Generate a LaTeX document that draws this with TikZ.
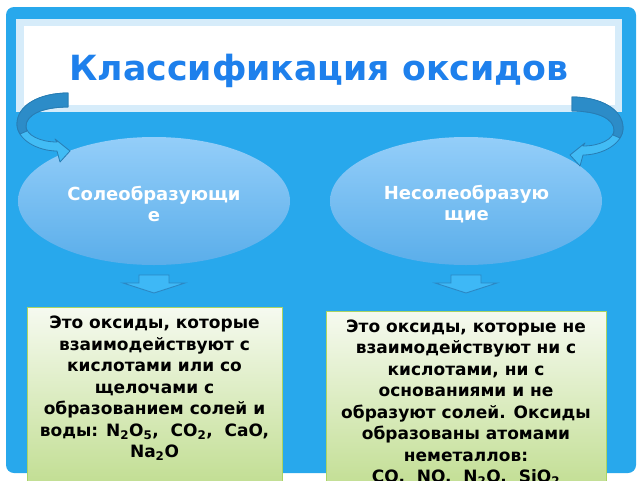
\documentclass[tikz,border=0pt]{standalone}
\usepackage{fontspec}
\setmainfont{DejaVu Sans}
\usetikzlibrary{shapes.geometric}
\definecolor{panelblue}{RGB}{40,168,236}
\definecolor{palebox}{RGB}{214,236,250}
\definecolor{titleblue}{RGB}{30,128,236}
\definecolor{ovaltop}{RGB}{148,206,249}
\definecolor{ovalbot}{RGB}{90,174,234}
\definecolor{boxtop}{RGB}{246,250,240}
\definecolor{boxbot}{RGB}{190,220,140}
\definecolor{boxline}{RGB}{170,212,100}
\definecolor{curllight}{RGB}{66,188,245}
\definecolor{curldark}{RGB}{44,140,200}
\definecolor{curlline}{RGB}{40,125,180}
\definecolor{downfill}{RGB}{62,184,246}
\definecolor{downline}{RGB}{44,136,196}
\tikzset{
  titletext/.style={font=\fontsize{34.7}{40}\selectfont\bfseries, text=titleblue, inner sep=0pt},
  oval/.style={ellipse, minimum width=272pt, minimum height=128pt, inner sep=0pt,
    top color=ovaltop, bottom color=ovalbot},
  ovaltext/.style={font=\fontsize{18}{21}\selectfont\bfseries, text=white, align=center, inner sep=0pt},
  greenbox/.style={rectangle, draw=boxline, line width=0.8pt, top color=boxtop, bottom color=boxbot, inner sep=0pt},
  bodytext/.style={font=\fontsize{17}{21.5}\selectfont\bfseries, text=black, align=center, inner sep=0pt},
  downarrow/.style={fill=downfill, draw=downline, line width=0.9pt, line join=miter},
  curl/.pic={
    \fill[curllight, draw=curlline, line width=0.8pt, line join=round]
      (68,93) .. controls (40,93) and (17,105) .. (17,124)
      .. controls (17,140) and (38,151) .. (57,151)
      -- (60,162) -- (70,151) -- (55,139) -- (57,142)
      .. controls (40,142) and (26,135) .. (26,126)
      .. controls (26,115) and (42,107) .. (68,107) -- cycle;
    \fill[curldark, draw=curlline, line width=0.8pt, line join=round]
      (68,93) .. controls (40,93) and (17,105) .. (17,124)
      .. controls (17,128) and (18,131) .. (20,134)
      -- (27,131) .. controls (26,129) and (26,127) .. (26,126)
      .. controls (26,115) and (42,107) .. (68,107) -- cycle;
  }
}
\begin{document}
\begin{tikzpicture}[x=1pt,y=-1pt]
\useasboundingbox (0,0) rectangle (640,480);
\clip (0,0) rectangle (640,480);
\fill[white] (0,0) rectangle (640,480);
\fill[panelblue, rounded corners=8pt] (6,7) rectangle (636,473);
% title frame
\fill[palebox] (16,19) rectangle (622,112);
\fill[white] (24,26) rectangle (615,105);
\node[titletext, anchor=base] (title) at (319,80) {Классификация оксидов};
% ovals
\node[oval] (e1) at (154,201) {};
\node[oval] (e2) at (466,201) {};
\node[ovaltext, anchor=north] (l1) at (154,186.5) {Солеобразующи\\е};
\node[ovaltext, anchor=north] (l2) at (466.5,185.5) {Несолеобразую\\щие};
% curled arrows from the title to the ovals
\pic at (0,0) {curl};
\pic[xscale=-1] at (640,4) {curl};
% boxes
\node[greenbox, minimum width=255pt, minimum height=190pt, anchor=north] (b1) at (154.5,307) {};
\node[greenbox, minimum width=280pt, minimum height=190pt, anchor=north] (b2) at (466,311) {};
\node[bodytext, anchor=north] (t1) at (154.5,316) {Это оксиды, которые\\взаимодействуют с\\кислотами или со\\щелочами с\\образованием солей и\\воды: N\textsubscript{2}O\textsubscript{5},\ \ CO\textsubscript{2},\ \ CaO,\\Na\textsubscript{2}O};
\node[bodytext, anchor=north] (t2) at (466,319.5) {Это оксиды, которые не\\взаимодействуют ни с\\кислотами, ни с\\основаниями и не\\образуют солей. Оксиды\\образованы атомами\\неметаллов:\\CO,\ \ NO,\ \ N\textsubscript{2}O,\ \ SiO\textsubscript{2}};
% down arrows between ovals and boxes
\coordinate (d1) at (154,293);
\coordinate (d2) at (466,293);
\draw[downarrow] (d1) -- ++(-31,-10) -- ++(16,0) -- ++(0,-8) -- ++(30,0) -- ++(0,8) -- ++(16,0) -- cycle;
\draw[downarrow] (d2) -- ++(-31,-10) -- ++(16,0) -- ++(0,-8) -- ++(30,0) -- ++(0,8) -- ++(16,0) -- cycle;
\end{tikzpicture}
\end{document}
